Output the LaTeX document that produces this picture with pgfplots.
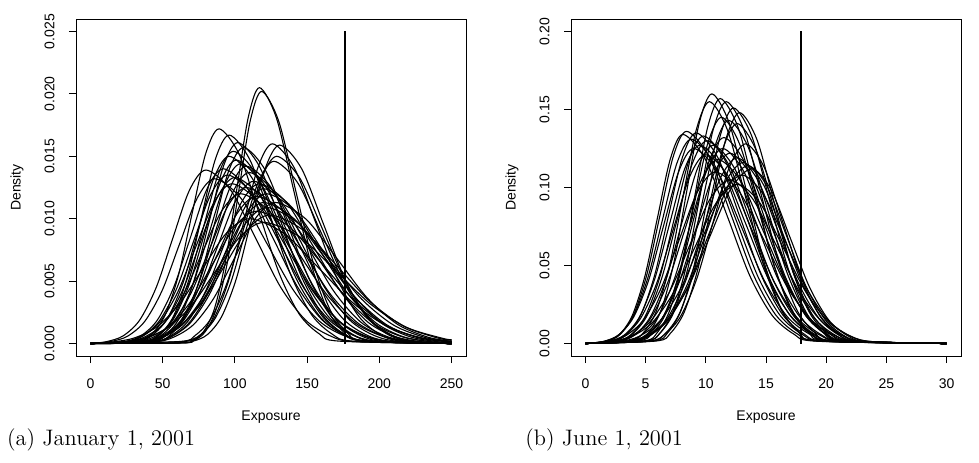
\documentclass[border=0pt]{standalone}
\usepackage{fontspec}
\usepackage{pgfplots}
\pgfplotsset{compat=1.18}
\newfontfamily\arial{Liberation Sans}
\tikzset{curve/.style={black, line width=0.55pt, smooth, mark=none}}
\pgfplotsset{rstyle/.style={
  scale only axis, width=195pt, height=168.5pt,
  axis line style={line width=0.5pt, black},
  tick align=outside, major tick length=3.5pt,
  xtick pos=left, ytick pos=left,
  tick style={black, line width=0.5pt},
  tick label style={font=\arial\fontsize{7}{8}\selectfont},
  label style={font=\arial\fontsize{7}{8}\selectfont},
  /pgf/number format/assume math mode=true,
  scaled ticks=false,
  y tick label style={rotate=90, anchor=south, inner sep=0pt},
  x tick label style={anchor=north, inner sep=0pt},
  yticklabel shift=7pt, xticklabel shift=7.5pt,
  xlabel=Exposure, ylabel=Density,
  xlabel style={at={(axis description cs:0.5,-0.181)}, anchor=center},
  ylabel style={at={(axis description cs:-0.151,0.5)}, anchor=center},
}}
\begin{document}
\begin{tikzpicture}
\useasboundingbox (0,0) rectangle (489.5pt,231pt);
\begin{axis}[rstyle, at={(38pt,53pt)}, anchor=south west,
  xmin=-10, xmax=260, ymin=-0.001, ymax=0.026,
  xtick={0,50,100,150,200,250}, ytick={0,0.005,0.01,0.015,0.02,0.025},
  yticklabel style={/pgf/number format/fixed, /pgf/number format/fixed zerofill, /pgf/number format/precision=3}]
\addplot[curve] coordinates {(0,0)(62.4,.00005)(70.2,.00023)(78,.00090)(85.8,.00277)(93.6,.00666)(101.4,.01243)(109.2,.01809)(117,.0205)(128.7,.01809)(140.4,.01243)(152.1,.00666)(163.8,.00277)(175.5,.00090)(187.2,.00023)(250,0)};
\addplot[curve] coordinates {(0,0)(63.3,.00005)(71.2,.00022)(79.1,.00089)(87.0,.00273)(94.9,.00656)(102.7,.01225)(110.6,.01783)(118.5,.0202)(130.3,.01783)(142.1,.01225)(154.0,.00656)(165.8,.00273)(177.6,.00089)(189.4,.00022)(250,0)};
\addplot[curve] coordinates {(0,0)(33.3,.00019)(42.6,.00076)(51.9,.00233)(61.2,.00559)(70.4,.01043)(79.7,.01518)(89,.0172)(102.9,.01518)(116.8,.01043)(130.8,.00559)(144.7,.00233)(158.6,.00076)(172.5,.00019)(250,0)};
\addplot[curve] coordinates {(0,0)(38.6,.00019)(48.2,.00073)(57.8,.00226)(67.3,.00542)(76.9,.01013)(86.4,.01474)(96,.0167)(110.3,.01474)(124.7,.01013)(139.0,.00542)(153.4,.00226)(167.7,.00073)(182.0,.00019)(250,0)};
\addplot[curve] coordinates {(0,0)(42.5,.00018)(52.4,.00071)(62.3,.00218)(72.2,.00523)(82.2,.00977)(92.1,.01421)(102,.0161)(116.9,.01421)(131.8,.00977)(146.6,.00523)(161.5,.00218)(176.4,.00071)(191.3,.00018)(250,0)};
\addplot[curve] coordinates {(0,0)(45.0,.00017)(55.2,.00069)(65.4,.00212)(75.5,.00510)(85.7,.00952)(95.8,.01386)(106,.0157)(121.2,.01386)(136.5,.00952)(151.7,.00510)(167.0,.00212)(182.2,.00069)(197.4,.00017)(250,0)};
\addplot[curve] coordinates {(0,0)(56.2,.00004)(66.2,.00018)(76.2,.00070)(86.2,.00217)(96.1,.00520)(106.1,.00970)(116.0,.01412)(126,.0160)(140.9,.01412)(155.9,.00970)(170.8,.00520)(185.8,.00217)(200.7,.00070)(215.6,.00018)(250,0)};
\addplot[curve] coordinates {(0,0)(60.7,.00004)(70.8,.00018)(80.8,.00070)(90.8,.00215)(100.9,.00516)(110.9,.00964)(121.0,.01403)(131,.0159)(146.1,.01403)(161.1,.00964)(176.2,.00516)(191.2,.00215)(206.3,.00070)(221.4,.00018)(250,0)};
\addplot[curve] coordinates {(0,0)(65.2,.00017)(75.8,.00066)(86.4,.00203)(97.1,.00487)(107.7,.00910)(118.4,.01324)(129,.0150)(145.0,.01324)(160.9,.00910)(176.9,.00487)(192.8,.00203)(208.8,.00066)(224.8,.00017)(250,0)};
\addplot[curve] coordinates {(0,0)(61.5,.00016)(72.4,.00064)(83.3,.00198)(94.2,.00474)(105.2,.00886)(116.1,.01289)(127,.0146)(143.4,.01289)(159.8,.00886)(176.1,.00474)(192.5,.00198)(208.9,.00064)(225.3,.00016)(250,0)};
\addplot[curve] coordinates {(0,0)(11.1,.00015)(22.6,.00061)(34.1,.00188)(45.6,.00451)(57.0,.00843)(68.5,.01227)(80,.0139)(97.2,.01227)(114.4,.00843)(131.7,.00451)(148.9,.00188)(166.1,.00061)(183.3,.00015)(250,0)};
\addplot[curve] coordinates {(0,0)(36.8,.00017)(47.2,.00068)(57.6,.00208)(67.9,.00500)(78.3,.00934)(88.6,.01359)(99,.0154)(114.5,.01359)(130.1,.00934)(145.6,.00500)(161.2,.00208)(176.7,.00068)(192.2,.00017)(250,0)};
\addplot[curve] coordinates {(0,0)(32.2,.00017)(42.8,.00066)(53.4,.00203)(64.1,.00487)(74.7,.00910)(85.4,.01324)(96,.0150)(112.0,.01324)(127.9,.00910)(143.9,.00487)(159.8,.00203)(175.8,.00066)(191.8,.00017)(250,0)};
\addplot[curve] coordinates {(0,0)(36.0,.00016)(46.8,.00065)(57.6,.00199)(68.5,.00477)(79.3,.00892)(90.2,.01297)(101,.0147)(117.3,.01297)(133.5,.00892)(149.8,.00477)(166.0,.00199)(182.3,.00065)(198.6,.00016)(250,0)};
\addplot[curve] coordinates {(0,0)(37.5,.00016)(48.6,.00063)(59.7,.00195)(70.8,.00468)(81.8,.00873)(92.9,.01271)(104,.0144)(120.6,.01271)(137.2,.00873)(153.9,.00468)(170.5,.00195)(187.1,.00063)(203.7,.00016)(250,0)};
\addplot[curve] coordinates {(0,0)(40.6,.00016)(51.8,.00062)(63.0,.00192)(74.3,.00461)(85.5,.00861)(96.8,.01253)(108,.0142)(124.9,.01253)(141.7,.00861)(158.6,.00461)(175.4,.00192)(192.3,.00062)(209.2,.00016)(250,0)};
\addplot[curve] coordinates {(0,0)(23.6,.00016)(35.0,.00062)(46.4,.00189)(57.8,.00455)(69.2,.00849)(80.6,.01236)(92,.0140)(109.1,.01236)(126.2,.00849)(143.3,.00455)(160.4,.00189)(177.5,.00062)(194.6,.00016)(250,0)};
\addplot[curve] coordinates {(0,0)(24.2,.00015)(36.0,.00059)(47.8,.00183)(59.6,.00438)(71.4,.00819)(83.2,.01191)(95,.0135)(112.7,.01191)(130.4,.00819)(148.1,.00438)(165.8,.00183)(183.5,.00059)(201.2,.00015)(250,0)};
\addplot[curve] coordinates {(0,0)(28,.00015)(40,.00058)(52,.00180)(64,.00432)(76,.00807)(88,.01174)(100,.0133)(118,.01174)(136,.00807)(154,.00432)(172,.00180)(190,.00058)(208,.00015)(250,0)};
\addplot[curve] coordinates {(0,0)(40.2,.00015)(51.8,.00060)(63.4,.00185)(75.1,.00445)(86.7,.00831)(98.4,.01209)(110,.0137)(127.5,.01209)(144.9,.00831)(162.4,.00445)(179.8,.00185)(197.3,.00060)(214.8,.00015)(250,0)};
\addplot[curve] coordinates {(0,0)(39.3,.00014)(51.6,.00057)(63.9,.00176)(76.2,.00422)(88.4,.00789)(100.7,.01147)(113,.0130)(131.4,.01147)(149.8,.00789)(168.3,.00422)(186.7,.00176)(205.1,.00057)(223.5,.00014)(250,0)};
\addplot[curve] coordinates {(0,0)(13.5,.00015)(25.6,.00058)(37.7,.00179)(49.8,.00429)(61.8,.00801)(73.9,.01165)(86,.0132)(104.1,.01165)(122.2,.00801)(140.4,.00429)(158.5,.00179)(176.6,.00058)(194.7,.00015)(250,0)};
\addplot[curve] coordinates {(0,0)(42.1,.00014)(54.6,.00056)(67.1,.00173)(79.6,.00416)(92.0,.00776)(104.5,.01130)(117,.0128)(135.7,.01130)(154.4,.00776)(173.2,.00416)(191.9,.00173)(210.6,.00056)(229.3,.00014)(250,0)};
\addplot[curve] coordinates {(0,0)(42.7,.00014)(55.6,.00054)(68.5,.00168)(81.4,.00403)(94.2,.00752)(107.1,.01094)(120,.0124)(139.3,.01094)(158.6,.00752)(178.0,.00403)(197.3,.00168)(216.6,.00054)(235.9,.00014)(250,0)};
\addplot[curve] coordinates {(0,0)(42.3,.00013)(55.6,.00053)(68.9,.00162)(82.2,.00390)(95.4,.00728)(108.7,.01059)(122,.0120)(141.9,.01059)(161.8,.00728)(181.8,.00390)(201.7,.00162)(221.6,.00053)(241.5,.00013)(250,.00005)};
\addplot[curve] coordinates {(0,0)(33.9,.00013)(47.4,.00052)(60.9,.00160)(74.4,.00383)(88.0,.00716)(101.5,.01041)(115,.0118)(135.3,.01041)(155.6,.00716)(175.8,.00383)(196.1,.00160)(216.4,.00052)(236.7,.00013)(250,.00005)};
\addplot[curve] coordinates {(0,0)(35.3,.00013)(49.4,.00050)(63.5,.00153)(77.6,.00367)(91.8,.00685)(105.9,.00997)(120,.0113)(141.2,.00997)(162.4,.00685)(183.5,.00367)(204.7,.00153)(225.9,.00050)(247.1,.00013)(250,.00011)};
\addplot[curve] coordinates {(0,0)(34.2,.00012)(48.8,.00048)(63.4,.00148)(78.1,.00354)(92.7,.00661)(107.4,.00962)(122,.0109)(144.0,.00962)(165.9,.00661)(187.9,.00354)(209.8,.00148)(231.8,.00048)(250,.00016)};
\addplot[curve] coordinates {(0,0)(24.8,.00012)(39.8,.00047)(54.8,.00143)(69.9,.00344)(84.9,.00643)(100.0,.00936)(115,.0106)(137.6,.00936)(160.1,.00643)(182.7,.00344)(205.2,.00143)(227.8,.00047)(250,.00012)};
\addplot[curve] coordinates {(0,0)(31.1,.00011)(46.6,.00045)(62.1,.00139)(77.6,.00334)(93.0,.00625)(108.5,.00909)(124,.0103)(147.2,.00909)(170.4,.00625)(193.7,.00334)(216.9,.00139)(240.1,.00045)(250,.00026)};
\addplot[curve] coordinates {(0,0)(14.2,.00011)(30.2,.00044)(46.2,.00135)(62.1,.00325)(78.1,.00607)(94.0,.00883)(110,.0100)(133.9,.00883)(157.9,.00607)(181.8,.00325)(205.8,.00135)(229.7,.00044)(250,.00014)};
\addplot[curve] coordinates {(0,0)(21.4,.00011)(37.8,.00043)(54.2,.00131)(70.7,.00315)(87.1,.00588)(103.6,.00856)(120,.0097)(144.7,.00856)(169.3,.00588)(194.0,.00315)(218.6,.00131)(243.3,.00043)(250,.0003)};
\addplot[curve] coordinates {(0,0)(31.4,.00014)(44.2,.00055)(57.0,.00169)(69.7,.00406)(82.5,.00758)(95.2,.01103)(108,.0125)(127.1,.01103)(146.3,.00758)(165.4,.00406)(184.6,.00169)(203.7,.00055)(222.8,.00014)(250,0)};
\addplot[curve] coordinates {(0,0)(24.3,.00013)(37.6,.00053)(50.9,.00162)(64.2,.00390)(77.4,.00728)(90.7,.01059)(104,.0120)(123.9,.01059)(143.8,.00728)(163.8,.00390)(183.7,.00162)(203.6,.00053)(223.5,.00013)(250,0)};
\addplot[curve] coordinates {(0,0)(43.3,.00013)(57.4,.00050)(71.5,.00153)(85.6,.00367)(99.8,.00685)(113.9,.00997)(128,.0113)(149.2,.00997)(170.4,.00685)(191.5,.00367)(212.7,.00153)(233.9,.00050)(250,.00018)};
\addplot[curve] coordinates {(0,0)(23.1,.00014)(35.6,.00056)(48.1,.00173)(60.6,.00416)(73.0,.00776)(85.5,.01130)(98,.0128)(116.7,.01130)(135.4,.00776)(154.2,.00416)(172.9,.00173)(191.6,.00056)(210.3,.00014)(250,0)};
\addplot[black, line width=1pt, sharp plot, mark=none] coordinates {(176,0)(176,0.025)};
\end{axis}
\begin{axis}[rstyle, at={(285.5pt,53pt)}, anchor=south west,
  xmin=-1.2, xmax=31.2, ymin=-0.008, ymax=0.208,
  xtick={0,5,10,15,20,25,30}, ytick={0,0.05,0.1,0.15,0.2},
  yticklabel style={/pgf/number format/fixed, /pgf/number format/fixed zerofill, /pgf/number format/precision=2}]
\addplot[curve] coordinates {(0,0)(4.2,.00178)(5.25,.00702)(6.3,.02165)(7.35,.05195)(8.4,.09704)(9.45,.14120)(10.5,.160)(11.95,.14120)(13.4,.09704)(14.85,.05195)(16.3,.02165)(17.75,.00702)(19.2,.00178)(30,0)};
\addplot[curve] coordinates {(0,0)(3.7,.00172)(4.8,.00680)(5.9,.02097)(7.0,.05033)(8.1,.09401)(9.2,.13679)(10.3,.155)(11.8,.13679)(13.3,.09401)(14.8,.05033)(16.3,.02097)(17.8,.00680)(19.3,.00172)(30,0)};
\addplot[curve] coordinates {(0,0)(4.9,.00174)(5.95,.00689)(7.0,.02124)(8.05,.05098)(9.1,.09522)(10.15,.13855)(11.2,.157)(12.68,.13855)(14.15,.09522)(15.63,.05098)(17.1,.02124)(18.58,.00689)(20.05,.00174)(30,0)};
\addplot[curve] coordinates {(0,0)(5.1,.00172)(6.2,.00680)(7.3,.02097)(8.4,.05033)(9.5,.09401)(10.6,.13679)(11.7,.155)(13.18,.13679)(14.65,.09401)(16.13,.05033)(17.6,.02097)(19.08,.00680)(20.55,.00172)(30,0)};
\addplot[curve] coordinates {(0,0)(5.7,.00168)(6.8,.00663)(7.9,.02043)(9.0,.04903)(10.1,.09158)(11.2,.13326)(12.3,.151)(13.8,.13326)(15.3,.09158)(16.8,.04903)(18.3,.02043)(19.8,.00663)(21.3,.00168)(30,0)};
\addplot[curve] coordinates {(0,0)(5.9,.00164)(7.05,.00650)(8.2,.02002)(9.35,.04806)(10.5,.08976)(11.65,.13061)(12.8,.148)(14.25,.13061)(15.7,.08976)(17.15,.04806)(18.6,.02002)(20.05,.00650)(21.5,.00164)(30,0)};
\addplot[curve] coordinates {(0,0)(5.0,.00159)(6.15,.00628)(7.3,.01935)(8.45,.04643)(9.6,.08673)(10.75,.12620)(11.9,.143)(13.5,.12620)(15.1,.08673)(16.7,.04643)(18.3,.01935)(19.9,.00628)(21.5,.00159)(30,0)};
\addplot[curve] coordinates {(0,0)(5.4,.00157)(6.6,.00619)(7.8,.01908)(9.0,.04578)(10.2,.08552)(11.4,.12443)(12.6,.141)(14.15,.12443)(15.7,.08552)(17.25,.04578)(18.8,.01908)(20.35,.00619)(21.9,.00157)(30,0)};
\addplot[curve] coordinates {(0,0)(1.8,.00151)(2.9,.00597)(4.0,.01840)(5.1,.04416)(6.2,.08248)(7.3,.12002)(8.4,.136)(10.25,.12002)(12.1,.08248)(13.95,.04416)(15.8,.01840)(17.65,.00597)(19.5,.00151)(30,0)};
\addplot[curve] coordinates {(0,0)(1.8,.00149)(2.85,.00588)(3.9,.01813)(4.95,.04351)(6.0,.08127)(7.05,.11826)(8.1,.134)(9.95,.11826)(11.8,.08127)(13.65,.04351)(15.5,.01813)(17.35,.00588)(19.2,.00149)(30,0)};
\addplot[curve] coordinates {(0,0)(2.3,.00150)(3.45,.00593)(4.6,.01827)(5.75,.04383)(6.9,.08188)(8.05,.11914)(9.2,.135)(11.0,.11914)(12.8,.08188)(14.6,.04383)(16.4,.01827)(18.2,.00593)(20.0,.00150)(30,0)};
\addplot[curve] coordinates {(0,0)(1.6,.00145)(2.8,.00575)(4.0,.01772)(5.2,.04254)(6.4,.07945)(7.6,.11561)(8.8,.131)(10.65,.11561)(12.5,.07945)(14.35,.04254)(16.2,.01772)(18.05,.00575)(19.9,.00145)(30,0)};
\addplot[curve] coordinates {(0,0)(2.6,.00148)(3.8,.00584)(5.0,.01799)(6.2,.04319)(7.4,.08066)(8.6,.11737)(9.8,.133)(11.6,.11737)(13.4,.08066)(15.2,.04319)(17.0,.01799)(18.8,.00584)(20.6,.00148)(30,0)};
\addplot[curve] coordinates {(0,0)(2.6,.00144)(3.85,.00571)(5.1,.01759)(6.35,.04221)(7.6,.07885)(8.85,.11473)(10.1,.130)(11.9,.11473)(13.7,.07885)(15.5,.04221)(17.3,.01759)(19.1,.00571)(20.9,.00144)(30,0)};
\addplot[curve] coordinates {(0,0)(2.0,.00141)(3.25,.00558)(4.5,.01718)(5.75,.04124)(7.0,.07703)(8.25,.11208)(9.5,.127)(11.4,.11208)(13.3,.07703)(15.2,.04124)(17.1,.01718)(19.0,.00558)(20.9,.00141)(30,0)};
\addplot[curve] coordinates {(0,0)(2.8,.00141)(4.1,.00558)(5.4,.01718)(6.7,.04124)(8.0,.07703)(9.3,.11208)(10.6,.127)(12.4,.11208)(14.2,.07703)(16.0,.04124)(17.8,.01718)(19.6,.00558)(21.4,.00141)(30,0)};
\addplot[curve] coordinates {(0,0)(3.3,.00139)(4.65,.00549)(6.0,.01691)(7.35,.04059)(8.7,.07581)(10.05,.11031)(11.4,.125)(13.15,.11031)(14.9,.07581)(16.65,.04059)(18.4,.01691)(20.15,.00549)(21.9,.00139)(30,0)};
\addplot[curve] coordinates {(0,0)(3.6,.00135)(5.0,.00536)(6.4,.01651)(7.8,.03961)(9.2,.07399)(10.6,.10767)(12.0,.122)(13.75,.10767)(15.5,.07399)(17.25,.03961)(19.0,.01651)(20.75,.00536)(22.5,.00135)(30,0)};
\addplot[curve] coordinates {(0,0)(3.9,.00132)(5.35,.00522)(6.8,.01610)(8.25,.03864)(9.7,.07217)(11.15,.10502)(12.6,.119)(14.3,.10502)(16.0,.07217)(17.7,.03864)(19.4,.01610)(21.1,.00522)(22.8,.00132)(30,0)};
\addplot[curve] coordinates {(0,0)(3.8,.00129)(5.35,.00509)(6.9,.01569)(8.45,.03767)(10.0,.07035)(11.55,.10237)(13.1,.116)(14.75,.10237)(16.4,.07035)(18.05,.03767)(19.7,.01569)(21.35,.00509)(23.0,.00129)(30,0)};
\addplot[curve] coordinates {(0,0)(3.6,.00127)(5.25,.00500)(6.9,.01542)(8.55,.03702)(10.2,.06914)(11.85,.10061)(13.5,.114)(15.1,.10061)(16.7,.06914)(18.3,.03702)(19.9,.01542)(21.5,.00500)(23.1,.00127)(30,0)};
\addplot[curve] coordinates {(0,0)(3.3,.00124)(5.05,.00492)(6.8,.01515)(8.55,.03637)(10.3,.06793)(12.05,.09884)(13.8,.112)(15.4,.09884)(17.0,.06793)(18.6,.03637)(20.2,.01515)(21.8,.00492)(23.4,.00124)(30,0)};
\addplot[curve] coordinates {(0,0)(2.1,.00117)(3.75,.00461)(5.4,.01421)(7.05,.03409)(8.7,.06368)(10.35,.09266)(12.0,.105)(13.9,.09266)(15.8,.06368)(17.7,.03409)(19.6,.01421)(21.5,.00461)(23.4,.00117)(30,0)};
\addplot[curve] coordinates {(0,0)(2.1,.00113)(3.85,.00448)(5.6,.01380)(7.35,.03312)(9.1,.06186)(10.85,.09002)(12.6,.102)(14.5,.09002)(16.4,.06186)(18.3,.03312)(20.2,.01380)(22.1,.00448)(24.0,.00113)(30,0)};
\addplot[curve] coordinates {(0,0)(2.6,.00131)(4.0,.00518)(5.4,.01597)(6.8,.03831)(8.2,.07157)(9.6,.10414)(11.0,.118)(12.9,.10414)(14.8,.07157)(16.7,.03831)(18.6,.01597)(20.5,.00518)(22.4,.00131)(30,0)};
\addplot[curve] coordinates {(0,0)(1.8,.00122)(3.3,.00483)(4.8,.01488)(6.3,.03572)(7.8,.06672)(9.3,.09708)(10.8,.110)(12.8,.09708)(14.8,.06672)(16.8,.03572)(18.8,.01488)(20.8,.00483)(22.8,.00122)(30,0)};
\addplot[curve] coordinates {(0,0)(5.2,.00142)(6.55,.00562)(7.9,.01732)(9.25,.04156)(10.6,.07763)(11.95,.11296)(13.3,.128)(14.85,.11296)(16.4,.07763)(17.95,.04156)(19.5,.01732)(21.05,.00562)(22.6,.00142)(30,0)};
\addplot[curve] coordinates {(0,0)(1.5,.00139)(2.75,.00549)(4.0,.01691)(5.25,.04059)(6.5,.07581)(7.75,.11031)(9.0,.125)(10.95,.11031)(12.9,.07581)(14.85,.04059)(16.8,.01691)(18.75,.00549)(20.7,.00139)(30,0)};
\addplot[curve] coordinates {(0,0)(4.0,.00147)(5.25,.00579)(6.5,.01786)(7.75,.04286)(9.0,.08006)(10.25,.11649)(11.5,.132)(13.2,.11649)(14.9,.08006)(16.6,.04286)(18.3,.01786)(20.0,.00579)(21.7,.00147)(30,0)};
\addplot[curve] coordinates {(0,0)(2.8,.00120)(4.5,.00474)(6.2,.01461)(7.9,.03507)(9.6,.06550)(11.3,.09531)(13.0,.108)(14.8,.09531)(16.6,.06550)(18.4,.03507)(20.2,.01461)(22.0,.00474)(23.8,.00120)(30,0)};
\addplot[curve] coordinates {(0,0)(1.9,.00134)(3.25,.00531)(4.6,.01637)(5.95,.03929)(7.3,.07339)(8.65,.10678)(10.0,.121)(11.9,.10678)(13.8,.07339)(15.7,.03929)(17.6,.01637)(19.5,.00531)(21.4,.00134)(30,0)};
\addplot[curve] coordinates {(0,0)(4.4,.00161)(5.55,.00637)(6.7,.01962)(7.85,.04708)(9.0,.08794)(10.15,.12796)(11.3,.145)(12.8,.12796)(14.3,.08794)(15.8,.04708)(17.3,.01962)(18.8,.00637)(20.3,.00161)(30,0)};
\addplot[black, line width=1pt, sharp plot, mark=none] coordinates {(17.9,0)(17.9,0.2)};
\end{axis}
\node[anchor=base west, inner sep=0pt, font=\fontsize{11.2}{13}\selectfont] at (3.35pt,8.5pt) {(a) January 1, 2001};
\node[anchor=base west, inner sep=0pt, font=\fontsize{11.2}{13}\selectfont] at (262.5pt,8.5pt) {(b) June 1, 2001};
\end{tikzpicture}
\end{document}
